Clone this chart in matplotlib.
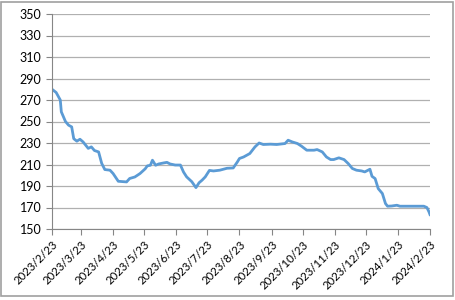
import matplotlib
matplotlib.use("Agg")
import matplotlib.pyplot as plt
import pandas as pd
from matplotlib.patches import Rectangle

# days after 2023/2/23 and the price read at each point
start = pd.Timestamp("2023-02-23")
days = [0, 4, 8, 9, 13, 16, 19, 21, 24, 27, 30, 35, 38, 41, 45, 48, 51, 56, 59,
        64, 72, 75, 80, 85, 90, 92, 95, 97, 100, 103, 108, 111, 114, 119, 124,
        127, 130, 135, 139, 142, 145, 148, 152, 156, 162, 169, 175, 179, 181,
        185, 188, 191, 196, 200, 204, 211, 217, 225, 228, 232, 237, 241, 246,
        253, 256, 261, 265, 269, 272, 277, 282, 286, 290, 294, 299, 302, 307,
        309, 312, 315, 319, 322, 324, 328, 333, 336, 346, 359, 362, 364, 365]
price = [280, 277, 270, 259, 250, 246.6, 245, 234, 231.7, 233.5, 231, 225,
         226.4, 223, 221.7, 211, 205.3, 204.7, 201.6, 194.4, 193.8, 197, 198.4,
         201.6, 206, 208.7, 209.3, 214, 209.3, 210.5, 211.5, 212, 210.5, 209.5,
         209.5, 203, 198.5, 194, 188.5, 193, 195.5, 198.5, 204.5, 204, 204.7,
         206.5, 206.8, 212.4, 215.6, 217, 218.6, 220.2, 226.4, 230, 228.6,
         228.9, 228.6, 229.5, 232.6, 231, 229.5, 227, 223.3, 223.3, 223.9,
         221.7, 217, 214.6, 214.6, 216.2, 214.6, 210.9, 206.3, 204.7, 204,
         203.1, 205.6, 199, 196.9, 187.6, 183, 173.7, 171.2, 171.4, 172.1,
         171.2, 171.2, 171.2, 170, 166, 163.4]
dates = [start + pd.Timedelta(days=d) for d in days]
ticks = [start + pd.DateOffset(months=m) for m in range(13)]
tick_labels = [f"{t.year}/{t.month}/{t.day}" for t in ticks]

plt.rcParams['font.family'] = ['Lato', 'DejaVu Sans']

fig = plt.figure(figsize=(4.56, 3.0), dpi=100)
fig.patches.append(Rectangle((0.003, 0.012), 0.99, 0.983, transform=fig.transFigure,
                             fill=False, edgecolor='#a0a0a0', linewidth=1.2))
ax = fig.add_axes([52 / 456, 1 - 229 / 300, 378 / 456, 215 / 300])

ax.plot(dates, price, color='#5b9bd5', linewidth=2)

ax.set_ylim(150, 350)
ax.set_yticks(range(150, 351, 20))
ax.set_xlim(ticks[0], ticks[-1])
ax.set_xticks(ticks)
ax.set_xticklabels(tick_labels, rotation=45, ha='right', rotation_mode='anchor')
ax.tick_params(axis='both', labelsize=9, colors='#868686', labelcolor='black',
               length=4, width=0.8)
ax.tick_params(axis='x', labelsize=8.2, pad=3)
ax.grid(axis='y', color='#b0b0b0', linewidth=0.9)
ax.set_axisbelow(True)
for s in ['top', 'right']:
    ax.spines[s].set_visible(False)
for s in ['left', 'bottom']:
    ax.spines[s].set_color('#868686')

fig.savefig("out.png", dpi=100)
